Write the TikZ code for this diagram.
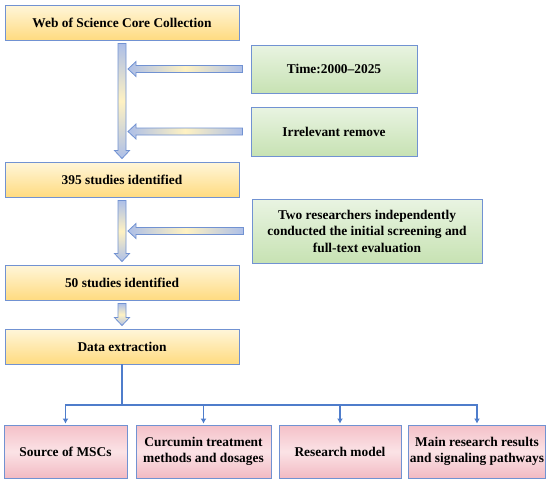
\documentclass[tikz,border=0pt]{standalone}
\usepackage{fontspec}
\setmainfont{Liberation Serif}
\usepackage{tikz}
\usetikzlibrary{calc,arrows.meta}
\definecolor{framecol}{HTML}{7192D2}
\definecolor{linecol}{HTML}{4F7DCB}
\definecolor{ylwtop}{HTML}{FFF6DA}
\definecolor{ylwbot}{HTML}{FFDB80}
\definecolor{grntop}{HTML}{E9F4E2}
\definecolor{grnbot}{HTML}{C7E2B3}
\definecolor{pnktop}{HTML}{F4C0C8}
\definecolor{pnkmid}{HTML}{FBE3E6}
\definecolor{pnkbot}{HTML}{F2BAC3}
\definecolor{arrend}{HTML}{ADBFE8}
\definecolor{arrmid}{HTML}{FFF2C2}
\newcommand{\downblock}[2]{\path[blockv] let \p1=($(#1.south)+(0,3)$), \p2=($(#2.north)+(0,-3)$) in (\x1-4pt,\y1) -- (\x1+4pt,\y1) -- (\x1+4pt,\y2+8pt) -- (\x1+7.5pt,\y2+8pt) -- (\x1,\y2) -- (\x1-7.5pt,\y2+8pt) -- (\x1-4pt,\y2+8pt) -- cycle;}
\newcommand{\leftblock}[2]{\path[blockh] let \p1=($(#1.west)+(-8,0)$), \p2=($(#2.south)+(6,0)$) in (\x1,\y1+3.5pt) -- (\x2+8pt,\y1+3.5pt) -- (\x2+8pt,\y1+7.5pt) -- (\x2,\y1) -- (\x2+8pt,\y1-7.5pt) -- (\x2+8pt,\y1-3.5pt) -- (\x1,\y1-3.5pt) -- cycle;}

\begin{document}
\begin{tikzpicture}[x=1pt,y=-1pt,
  box/.style={draw=framecol, line width=0.9pt, inner sep=0pt, align=center, font=\fontsize{13.4}{16.5}\selectfont\bfseries},
  ybox/.style={box, top color=ylwtop, bottom color=ylwbot, minimum width=234, minimum height=35},
  gbox/.style={box, top color=grntop, bottom color=grnbot},
  pbox/.style={box, top color=pnktop, bottom color=pnkbot, middle color=pnkmid, minimum height=53},
  blockv/.style={draw=framecol, line width=0.8pt, top color=arrend, bottom color=arrend, middle color=arrmid},
  blockh/.style={draw=framecol, line width=0.8pt, left color=arrend, right color=arrend, middle color=arrmid},
  link/.style={draw=linecol, line width=1.1pt}]
\useasboundingbox (0,0) rectangle (550,483);
\node[ybox] (web) at (122,22.5) {Web of Science Core Collection};
\node[ybox] (s395) at (122,179.5) {395 studies identified};
\node[ybox] (s50) at (122,282.5) {50 studies identified};
\node[ybox] (data) at (122,346.5) {Data extraction};
\node[gbox, minimum width=166, minimum height=48] (time) at (334,69) {Time:2000--2025};
\node[gbox, minimum width=166, minimum height=49] (irr) at (334,131.5) {Irrelevant remove};
\node[gbox, minimum width=230, minimum height=64] (two) at (367,231) {Two researchers independently\\conducted the initial screening and\\full-text evaluation};
\node[pbox, minimum width=123] (src) at (65.5,451.5) {Source of MSCs};
\node[pbox, minimum width=135] (cur) at (203.5,451.5) {Curcumin treatment\\methods and dosages};
\node[pbox, minimum width=122] (model) at (340,451.5) {Research model};
\node[pbox, minimum width=137] (main) at (477,451.5) {Main research results\\and signaling pathways};
\downblock{web}{s395}
\downblock{s395}{s50}
\downblock{s50}{data}
\leftblock{time}{web}
\leftblock{irr}{web}
\leftblock{two}{web}
\coordinate (split) at (122,405);
\draw[link] (data.south) -- (split);
\draw[link,-{Latex[length=5pt,width=6pt]},shorten >=1pt] (split) -| (src.north);
\draw[link,-{Latex[length=5pt,width=6pt]},shorten >=1pt] (split) -| (cur.north);
\draw[link,-{Latex[length=5pt,width=6pt]},shorten >=1pt] (split) -| (model.north);
\draw[link,-{Latex[length=5pt,width=6pt]},shorten >=1pt] (split) -| (main.north);
\end{tikzpicture}
\end{document}
